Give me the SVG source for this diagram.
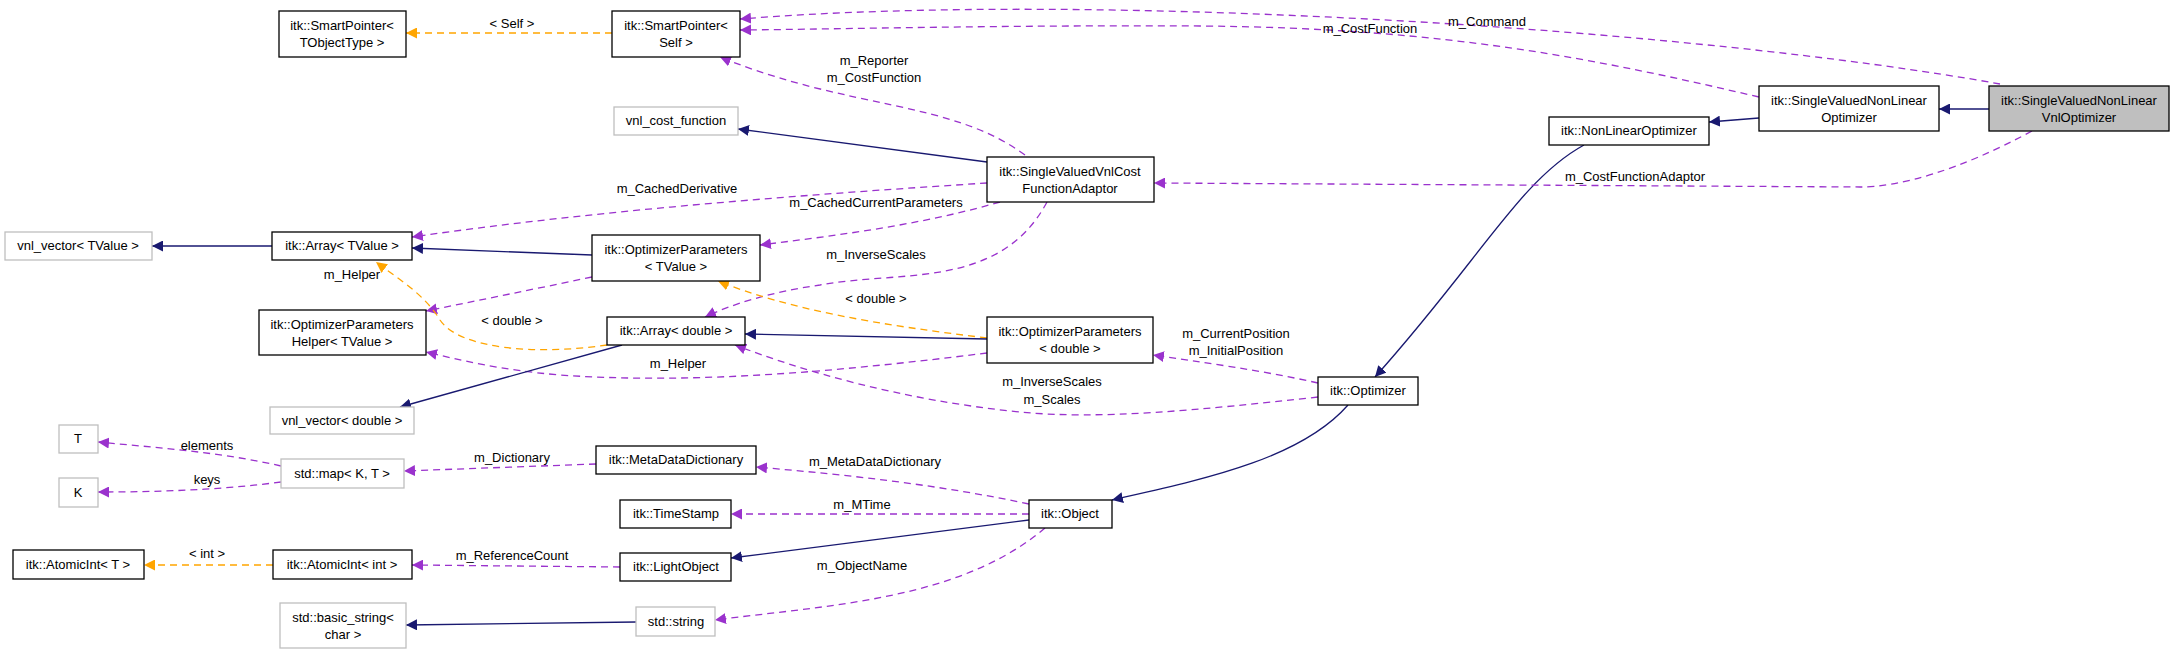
<svg xmlns="http://www.w3.org/2000/svg" width="2173" height="654" viewBox="0 0 2173 654">
<defs>
<style>
text{font-family:"Liberation Sans",Arial,sans-serif;font-size:13px;fill:#000;text-anchor:middle}
.n rect{fill:#fff;stroke:#000;stroke-width:1.3}
.n.u rect{stroke:#bfbfbf}
.n.cur rect{fill:#bfbfbf}
.inh{fill:none;stroke:#191970;stroke-width:1.3}
.use{fill:none;stroke:#9a32cd;stroke-width:1.3;stroke-dasharray:7,5}
.tpl{fill:none;stroke:#ffa500;stroke-width:1.3;stroke-dasharray:7,5}
</style>
<marker id="aI" viewBox="0 0 10 10" refX="10" refY="5" markerWidth="11" markerHeight="11" markerUnits="userSpaceOnUse" orient="auto"><path d="M0,0L10,5L0,10z" fill="#191970"/></marker>
<marker id="aU" viewBox="0 0 10 10" refX="10" refY="5" markerWidth="11" markerHeight="11" markerUnits="userSpaceOnUse" orient="auto"><path d="M0,0L10,5L0,10z" fill="#9a32cd"/></marker>
<marker id="aT" viewBox="0 0 10 10" refX="10" refY="5" markerWidth="11" markerHeight="11" markerUnits="userSpaceOnUse" orient="auto"><path d="M0,0L10,5L0,10z" fill="#ffa500"/></marker>
</defs>
<rect width="2173" height="654" fill="#fff"/>
<g id="edges">
<path class="tpl" marker-end="url(#aT)" d="M612,33L406,33"/><text x="512" y="28">&lt; Self &gt;</text>
<path class="use" marker-end="url(#aU)" d="M2000,84C1700,30 1100,-10 740,19"/><text x="1487" y="26">m_Command</text>
<path class="use" marker-end="url(#aU)" d="M1759,97C1600,60 1450,28 1200,26C1000,25 850,29 740,30"/><text x="1370" y="33">m_CostFunction</text>
<path class="use" marker-end="url(#aU)" d="M1025,155C950,100 850,110 720,57"/><text x="874" y="65">m_Reporter</text><text x="874" y="82">m_CostFunction</text>
<path class="inh" marker-end="url(#aI)" d="M987,162L738,129"/>
<path class="use" marker-end="url(#aU)" d="M987,183C800,195 600,210 412,237"/><text x="677" y="193">m_CachedDerivative</text>
<path class="use" marker-end="url(#aU)" d="M1000,202C920,225 840,235 760,245"/><text x="876" y="207">m_CachedCurrentParameters</text>
<path class="use" marker-end="url(#aU)" d="M1047,202C1000,290 900,270 820,285C770,292 730,305 705,317"/><text x="876" y="259">m_InverseScales</text>
<path class="inh" marker-end="url(#aI)" d="M592,255L412,248"/>
<path class="use" marker-end="url(#aU)" d="M592,277C530,290 480,300 426,311"/><text x="352" y="279">m_Helper</text>
<path class="inh" marker-end="url(#aI)" d="M272,246L152,246"/>
<path class="tpl" marker-end="url(#aT)" d="M607,345C540,355 460,350 440,320C425,295 400,280 376,262"/><text x="512" y="325">&lt; double &gt;</text>
<path class="tpl" marker-end="url(#aT)" d="M987,338C880,325 790,310 718,281"/><text x="876" y="303">&lt; double &gt;</text>
<path class="inh" marker-end="url(#aI)" d="M987,339L745,334"/>
<path class="use" marker-end="url(#aU)" d="M987,353C850,370 700,385 560,375C500,370 460,360 426,352"/><text x="678" y="368">m_Helper</text>
<path class="inh" marker-end="url(#aI)" d="M622,345L400,407"/>
<path class="use" marker-end="url(#aU)" d="M1318,383C1260,370 1200,362 1153,355"/><text x="1236" y="338">m_CurrentPosition</text><text x="1236" y="355">m_InitialPosition</text>
<path class="use" marker-end="url(#aU)" d="M1318,397C1200,410 1100,420 1020,412C900,400 800,370 735,345"/><text x="1052" y="386">m_InverseScales</text><text x="1052" y="404">m_Scales</text>
<path class="inh" marker-end="url(#aI)" d="M1584,145C1520,180 1480,260 1375,377"/>
<path class="inh" marker-end="url(#aI)" d="M1759,118L1709,122"/>
<path class="inh" marker-end="url(#aI)" d="M1989,109L1939,109"/>
<path class="use" marker-end="url(#aU)" d="M2032,131C1960,170 1900,187 1860,187L1154,183"/><text x="1635" y="181">m_CostFunctionAdaptor</text>
<path class="inh" marker-end="url(#aI)" d="M1348,405C1300,460 1200,480 1112,500"/>
<path class="use" marker-end="url(#aU)" d="M1029,504C940,485 850,475 756,467"/><text x="875" y="466">m_MetaDataDictionary</text>
<path class="use" marker-end="url(#aU)" d="M1029,514L731,514"/><text x="862" y="509">m_MTime</text>
<path class="inh" marker-end="url(#aI)" d="M1029,520L731,558"/>
<path class="use" marker-end="url(#aU)" d="M1045,528C960,600 830,605 715,620"/><text x="862" y="570">m_ObjectName</text>
<path class="use" marker-end="url(#aU)" d="M596,464L404,471"/><text x="512" y="462">m_Dictionary</text>
<path class="use" marker-end="url(#aU)" d="M281,466C220,452 160,448 98,442"/><text x="207" y="450">elements</text>
<path class="use" marker-end="url(#aU)" d="M281,482C220,490 160,492 98,492"/><text x="207" y="484">keys</text>
<path class="use" marker-end="url(#aU)" d="M620,567L412,565"/><text x="512" y="560">m_ReferenceCount</text>
<path class="tpl" marker-end="url(#aT)" d="M273,565L144,565"/><text x="207" y="558">&lt; int &gt;</text>
<path class="inh" marker-end="url(#aI)" d="M636,622L406,625"/>
</g>
<g id="n1" class="n"><rect x="279" y="11" width="127" height="46"/><text x="342" y="30">itk::SmartPointer&lt;</text><text x="342" y="47">TObjectType &gt;</text></g>
<g id="n2" class="n"><rect x="612" y="11" width="128" height="46"/><text x="676" y="30">itk::SmartPointer&lt;</text><text x="676" y="47">Self &gt;</text></g>
<g id="n3" class="n u"><rect x="614" y="107" width="124" height="28"/><text x="676" y="125">vnl_cost_function</text></g>
<g id="n4" class="n u"><rect x="5" y="232" width="147" height="28"/><text x="78" y="250">vnl_vector&lt; TValue &gt;</text></g>
<g id="n5" class="n"><rect x="272" y="232" width="140" height="28"/><text x="342" y="250">itk::Array&lt; TValue &gt;</text></g>
<g id="n6" class="n"><rect x="592" y="235" width="168" height="46"/><text x="676" y="254">itk::OptimizerParameters</text><text x="676" y="271">&lt; TValue &gt;</text></g>
<g id="n7" class="n"><rect x="259" y="310" width="167" height="45"/><text x="342" y="329">itk::OptimizerParameters</text><text x="342" y="346">Helper&lt; TValue &gt;</text></g>
<g id="n8" class="n"><rect x="607" y="317" width="138" height="28"/><text x="676" y="335">itk::Array&lt; double &gt;</text></g>
<g id="n9" class="n u"><rect x="270" y="407" width="144" height="27"/><text x="342" y="425">vnl_vector&lt; double &gt;</text></g>
<g id="n10" class="n u"><rect x="59" y="425" width="39" height="28"/><text x="78" y="443">T</text></g>
<g id="n11" class="n u"><rect x="59" y="478" width="39" height="29"/><text x="78" y="497">K</text></g>
<g id="n12" class="n u"><rect x="281" y="459" width="123" height="29"/><text x="342" y="478">std::map&lt; K, T &gt;</text></g>
<g id="n13" class="n"><rect x="596" y="446" width="160" height="28"/><text x="676" y="464">itk::MetaDataDictionary</text></g>
<g id="n14" class="n"><rect x="620" y="500" width="111" height="28"/><text x="676" y="518">itk::TimeStamp</text></g>
<g id="n15" class="n"><rect x="13" y="550" width="131" height="29"/><text x="78" y="569">itk::AtomicInt&lt; T &gt;</text></g>
<g id="n16" class="n"><rect x="273" y="550" width="139" height="29"/><text x="342" y="569">itk::AtomicInt&lt; int &gt;</text></g>
<g id="n17" class="n"><rect x="620" y="553" width="111" height="28"/><text x="676" y="571">itk::LightObject</text></g>
<g id="n18" class="n u"><rect x="280" y="603" width="126" height="45"/><text x="343" y="622">std::basic_string&lt;</text><text x="343" y="639">char &gt;</text></g>
<g id="n19" class="n u"><rect x="636" y="607" width="79" height="29"/><text x="676" y="626">std::string</text></g>
<g id="n20" class="n"><rect x="987" y="157" width="167" height="45"/><text x="1070" y="176">itk::SingleValuedVnlCost</text><text x="1070" y="193">FunctionAdaptor</text></g>
<g id="n21" class="n"><rect x="987" y="317" width="166" height="46"/><text x="1070" y="336">itk::OptimizerParameters</text><text x="1070" y="353">&lt; double &gt;</text></g>
<g id="n22" class="n"><rect x="1029" y="500" width="83" height="28"/><text x="1070" y="518">itk::Object</text></g>
<g id="n23" class="n"><rect x="1318" y="377" width="100" height="28"/><text x="1368" y="395">itk::Optimizer</text></g>
<g id="n24" class="n"><rect x="1549" y="117" width="160" height="28"/><text x="1629" y="135">itk::NonLinearOptimizer</text></g>
<g id="n25" class="n"><rect x="1759" y="86" width="180" height="45"/><text x="1849" y="105">itk::SingleValuedNonLinear</text><text x="1849" y="122">Optimizer</text></g>
<g id="n26" class="n cur"><rect x="1989" y="86" width="180" height="45"/><text x="2079" y="105">itk::SingleValuedNonLinear</text><text x="2079" y="122">VnlOptimizer</text></g>
</svg>
